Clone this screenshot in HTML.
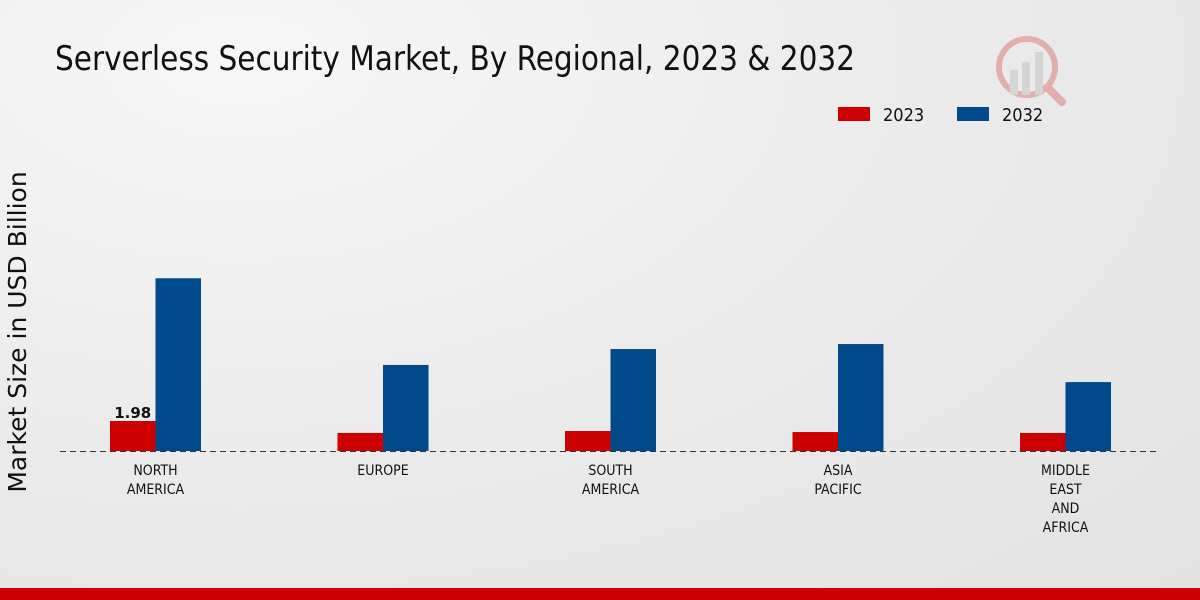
<!DOCTYPE html>
<html><head><meta charset="utf-8"><style>
html,body{margin:0;padding:0;width:1200px;height:600px;overflow:hidden}
body{background:radial-gradient(ellipse at 20% 10%,#f7f7f7 0%,#ebebeb 50%,#e2e2e2 100%);font-family:"DejaVu Sans","Liberation Sans",sans-serif}
</style></head><body>
<svg id="chart" width="1200" height="600" xmlns="http://www.w3.org/2000/svg">
<text x="55" y="70" font-size="34" fill="#111" textLength="800" lengthAdjust="spacingAndGlyphs" font-family="DejaVu Sans Condensed, DejaVu Sans, sans-serif">Serverless Security Market, By Regional, 2023 &amp; 2032</text>
<g opacity="0.25">
<circle cx="1027" cy="67" r="28" fill="none" stroke="#c00" stroke-width="6"/>
<rect x="1010" y="70" width="8" height="25" fill="#999"/><rect x="1022" y="62" width="8" height="33" fill="#999"/><rect x="1035" y="52" width="8" height="43" fill="#999"/>
<line x1="1048" y1="88" x2="1062" y2="102" stroke="#c00" stroke-width="8" stroke-linecap="round"/>
</g>
<g font-family="DejaVu Sans Condensed, DejaVu Sans, sans-serif">
<rect x="838" y="107" width="32" height="14" fill="#cc0000"/>
<text x="883" y="121" font-size="18" fill="#111">2023</text>
<rect x="957" y="107" width="32" height="14" fill="#004a8b"/>
<text x="1002" y="121" font-size="18" fill="#111">2032</text>
</g>
<text transform="translate(26,332) rotate(-90)" text-anchor="middle" font-size="25" fill="#111">Market Size in USD Billion</text>
<g id="bars"></g>
<line x1="60" y1="451.5" x2="1160" y2="451.5" stroke="#333" stroke-dasharray="6,4" stroke-width="1"/>
<g id="labels"></g>
<rect x="0" y="588" width="1200" height="12" fill="#cc0000"/>
</svg>
<script>
const categories=[["NORTH","AMERICA"],["EUROPE"],["SOUTH","AMERICA"],["ASIA","PACIFIC"],["MIDDLE","EAST","AND","AFRICA"]];
const values2023=[1.98,1.19,1.32,1.25,1.19];
const values2032=[11.4,5.68,6.73,7.06,4.55];
const ns="http://www.w3.org/2000/svg";
const baseY=451, pxPerUnit=15.15, x0=155.5, step=227.5, bw=45.5;
const yScale=v=>baseY-v*pxPerUnit;
const xCenter=i=>x0+i*step;
const bars=document.getElementById('bars'), labels=document.getElementById('labels');
categories.forEach((c,i)=>{
  const cx=xCenter(i);
  [[values2023[i],'#cc0000',cx-bw,'2023'],[values2032[i],'#004a8b',cx,'2032']].forEach(([v,col,x,s])=>{
    const r=document.createElementNS(ns,'rect');
    r.setAttribute('x',x);r.setAttribute('y',yScale(v));r.setAttribute('width',bw);r.setAttribute('height',baseY-yScale(v));r.setAttribute('fill',col);
    
    
    bars.appendChild(r);
  });
  c.forEach((line,j)=>{
    const t=document.createElementNS(ns,'text');
    t.setAttribute('x',cx);t.setAttribute('y',475+j*19);t.setAttribute('text-anchor','middle');t.setAttribute('font-size','14');t.setAttribute('fill','#111');
    t.setAttribute('font-family','DejaVu Sans Condensed, DejaVu Sans, sans-serif');
    t.textContent=line;
    
    
    labels.appendChild(t);
  });
});
const vl=document.createElementNS(ns,'text');
vl.setAttribute('x',xCenter(0)-bw/2);vl.setAttribute('y',yScale(values2023[0])-3);vl.setAttribute('text-anchor','middle');vl.setAttribute('font-size','15');vl.setAttribute('font-weight','bold');vl.setAttribute('fill','#111');
vl.textContent=values2023[0].toFixed(2);


labels.appendChild(vl);
</script>
</body></html>
